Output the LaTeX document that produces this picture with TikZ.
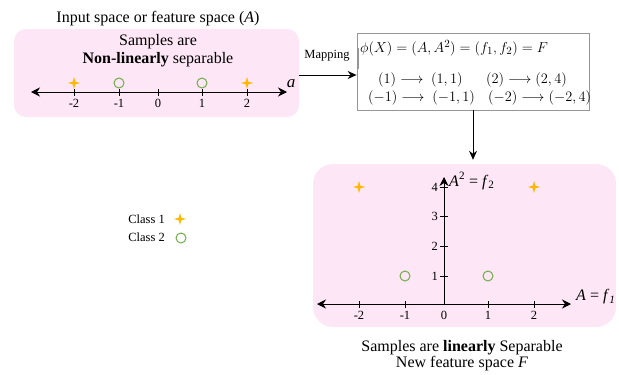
\documentclass[tikz,border=0pt]{standalone}
\usepackage{fontspec}
\setmainfont{Liberation Serif}
\usetikzlibrary{arrows.meta,shapes.geometric,calc}
\definecolor{pinkbg}{RGB}{253,230,246}
\definecolor{starcol}{RGB}{255,184,0}
\definecolor{circcol}{RGB}{112,173,71}
\definecolor{boxgray}{RGB}{150,150,150}
\begin{document}
\begin{tikzpicture}[x=1pt,y=-1pt,
  pinkbox/.style={fill=pinkbg,draw=none,rounded corners=#1,inner sep=0pt},
  starmark/.style={star,star points=4,star point ratio=3.2,fill=starcol,draw=none,minimum size=12pt,inner sep=0pt},
  circmark/.style={circle,draw=circcol,line width=1pt,minimum size=10pt,inner sep=0pt},
  axisline/.style={line width=0.9pt,{Stealth[length=9pt,width=9pt,inset=3pt]}-{Stealth[length=9pt,width=9pt,inset=3pt]}},
  yaxis/.style={line width=0.9pt,-{Stealth[length=9pt,width=9pt,inset=3pt]}},
  tick/.style={line width=0.9pt},
  ticklab/.style={font=\fontsize{12.5}{14}\selectfont,inner sep=0pt},
  bigtxt/.style={font=\fontsize{16}{18}\selectfont,inner sep=0pt,align=center},
  mathtxt/.style={font=\fontsize{15}{17}\selectfont,inner sep=0pt,anchor=west},
  conn/.style={line width=0.9pt,-{Stealth[length=9pt,width=8pt,inset=3pt]}}
]
\useasboundingbox (0,0) rectangle (619,375);

% top-left box
\node[pinkbox=12pt,minimum width=285pt,minimum height=88pt] (inbox) at (156.5,73) {};
\node[bigtxt] (title) at (158,19) {Input space or feature space (\textit{A})};
\node[bigtxt] (s1) at (158,42) {Samples are};
\node[bigtxt] (s2) at (158,60) {\textbf{Non-linearly} separable};

\coordinate (al) at (31,92);
\coordinate (ar) at (287,92);
\draw[axisline] (al) -- (ar);
\foreach \xx/\lab in {74/-2,119/-1,158/0,202/1,247/2}{
  \draw[tick] (\xx,89) -- (\xx,96);
  \node[ticklab] (t1\lab) at (\xx,103) {\lab};
}
\node[starmark] (p1) at (74,83) {};
\node[circmark] (p2) at (119,83) {};
\node[circmark] (p3) at (202,83) {};
\node[starmark] (p4) at (247,83) {};
\node[bigtxt,font=\fontsize{17}{18}\selectfont\itshape] (alab) at (291,84) {a};

% formula box
\node[draw=boxgray,line width=0.8pt,minimum width=232pt,minimum height=77pt,inner sep=0pt] (fbox) at (473,71.5) {};
\draw[boxgray,line width=2.2pt] (358,48) -- (358,69);
\node[mathtxt] (f1) at (360,48) {$\phi(X) = (A, A^2) = (f_1, f_2) = F$};
\node[mathtxt] (f2a) at (378,80) {$(1) \longrightarrow\ (1,1)$};
\node[mathtxt] (f2b) at (486,80) {$(2) \longrightarrow (2,4)$};
\node[mathtxt] (f3a) at (368,98) {$(-1) \longrightarrow\ (-1,1)$};
\node[mathtxt] (f3b) at (488,98) {$(-2) \longrightarrow (-2,4)$};

% mapping arrow
\coordinate (my) at (0,75);
\draw[conn] (inbox.east |- my) -- (fbox.west |- my);
\node[ticklab] (maplab) at (327,56) {Mapping};

% lower box
\node[pinkbox=20pt,minimum width=303pt,minimum height=163pt] (outbox) at (464.5,245.5) {};
\draw[conn] (fbox.south) -- ($(fbox.south |- outbox.north)+(0,-4)$);

\coordinate (bl) at (317,304);
\coordinate (br) at (571,304);
\coordinate (o) at (444,304);
\coordinate (ot) at (444,177);
\draw[axisline] (bl) -- (br);
\draw[yaxis] (o) -- (ot);
\foreach \xx/\lab in {359/-2,405/-1,488/1,534/2}{
  \draw[tick] (\xx,301) -- (\xx,308);
  \node[ticklab] (t2\lab) at (\xx,315) {\lab};
}
\node[ticklab] (t20) at (444,315) {0};
\foreach \yy/\lab in {276/1,246/2,216/3,187/4}{
  \draw[tick] (440,\yy) -- (448,\yy);
  \node[ticklab,anchor=east] (ty\lab) at (438,\yy) {\lab};
}
\node[starmark] (q1) at (359,187) {};
\node[starmark] (q2) at (534,187) {};
\node[circmark] (q3) at (405,276) {};
\node[circmark] (q4) at (488,276) {};
\node[bigtxt,anchor=west] (ylab) at (449,181) {\textit{A}\textsuperscript{2} = \textit{f}\textsubscript{2}};
\node[bigtxt,anchor=west] (xlab) at (576,297) {\textit{A} = \textit{f}\textsubscript{\textit{1}}};

\node[bigtxt] (b1) at (462,348) {Samples are \textbf{linearly} Separable};
\node[bigtxt] (b2) at (462,364) {New feature space \textit{F}};

% legend
\node[ticklab,anchor=east] (c1) at (165,219) {Class 1};
\node[ticklab,anchor=east] (c2) at (165,237) {Class 2};
\node[starmark] (l1) at (180,219) {};
\node[circmark] (l2) at (181,238) {};
\end{tikzpicture}
\end{document}
